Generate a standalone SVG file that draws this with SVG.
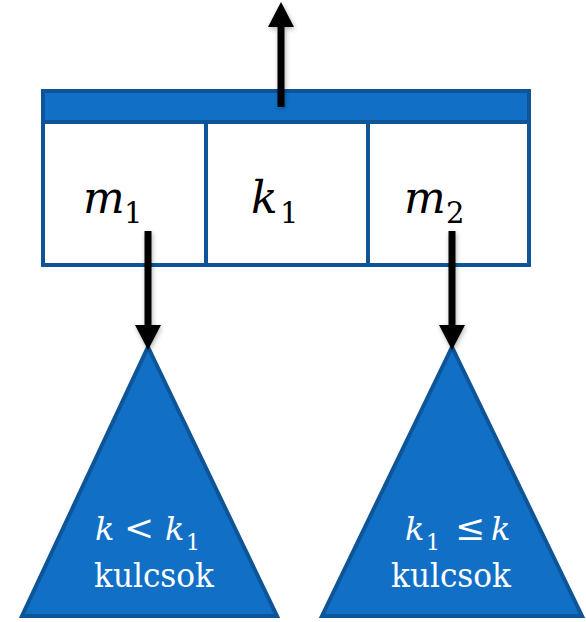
<svg xmlns="http://www.w3.org/2000/svg" width="586" height="622" viewBox="0 0 586 622">
<style>
.box{fill:#ffffff;stroke:#0E5598;stroke-width:4}
.hdr{fill:#1170C6;stroke:#0E5598;stroke-width:4}
.tri{fill:#1170C6;stroke:#0E5598;stroke-width:4;stroke-linejoin:miter}
.it{font-family:"DejaVu Serif","Liberation Serif",serif;font-style:italic}
.rm{font-family:"DejaVu Serif","Liberation Serif",serif}
.blk{fill:#000}
.wht{fill:#fff}
.word{font-family:"DejaVu Serif","Liberation Serif",serif;fill:#fff}
.conn{stroke:#000;stroke-width:7;fill:none}
.head{fill:#000}
</style>
<defs>
<filter id="sh" x="-50%" y="-20%" width="200%" height="140%">
<feGaussianBlur in="SourceAlpha" stdDeviation="2.5"/>
<feOffset dx="1" dy="2"/>
<feComponentTransfer><feFuncA type="linear" slope="0.3"/></feComponentTransfer>
<feMerge><feMergeNode/><feMergeNode in="SourceGraphic"/></feMerge>
</filter>
</defs>
<g id="node">
<rect class="box" x="43" y="91" width="486" height="174"/>
<rect class="hdr" x="43" y="91" width="486" height="31"/>
<line x1="206" y1="122" x2="206" y2="265" stroke="#0E5598" stroke-width="4"/>
<line x1="368" y1="122" x2="368" y2="265" stroke="#0E5598" stroke-width="4"/>
<text class="it blk" x="83" y="213" font-size="44">m</text><text class="rm blk" x="124" y="223" font-size="29">1</text>
<text class="it blk" x="251" y="213" font-size="44">k</text><text class="rm blk" x="280" y="223" font-size="29">1</text>
<text class="it blk" x="404" y="213" font-size="44">m</text><text class="rm blk" x="446" y="223" font-size="29">2</text>
</g>
<g id="left-subtree">
<polygon class="tri" points="148,347 277,616 22,616"/>
<text class="it wht" x="95" y="540" font-size="32">k</text>
<text class="rm wht" x="124" y="540" font-size="36">&lt;</text>
<text class="it wht" x="165" y="540" font-size="32">k</text>
<text class="rm wht" x="186" y="550" font-size="22">1</text>
<text class="word" x="154" y="587" font-size="34" text-anchor="middle" textLength="120" lengthAdjust="spacingAndGlyphs">kulcsok</text>
</g>
<g id="right-subtree">
<polygon class="tri" points="452,347 582,616 322,616"/>
<text class="it wht" x="405" y="540" font-size="32">k</text>
<text class="rm wht" x="426" y="550" font-size="22">1</text>
<text class="rm wht" x="455" y="540" font-size="36">≤</text>
<text class="it wht" x="491" y="540" font-size="32">k</text>
<text class="word" x="451" y="587" font-size="34" text-anchor="middle" textLength="120" lengthAdjust="spacingAndGlyphs">kulcsok</text>
</g>
<g id="connectors" filter="url(#sh)">
<line class="conn" x1="281" y1="107" x2="281" y2="24"/>
<polygon class="head" points="281,2 294,27 268,27"/>
<line class="conn" x1="148" y1="231" x2="148" y2="328"/>
<polygon class="head" points="148,350 161,325 135,325"/>
<line class="conn" x1="452" y1="231" x2="452" y2="328"/>
<polygon class="head" points="452,350 465,325 439,325"/>
</g>
</svg>
